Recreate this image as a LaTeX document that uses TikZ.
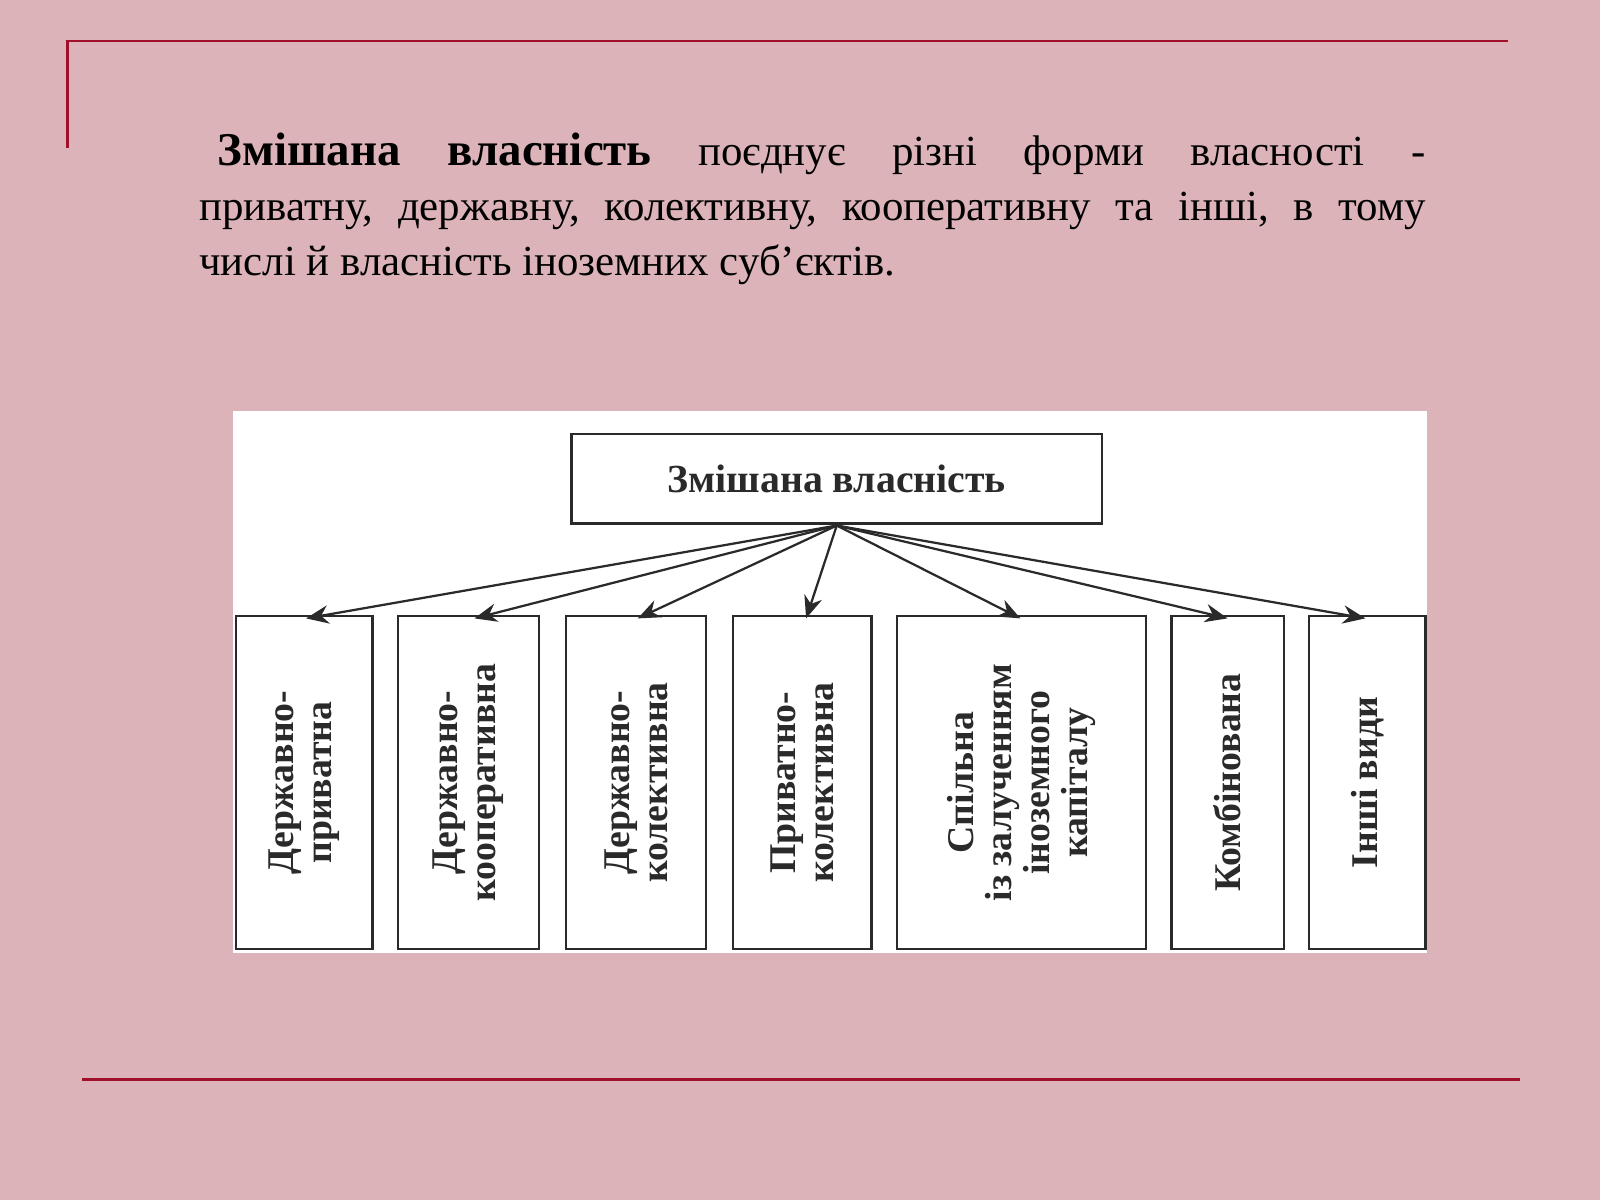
\documentclass[tikz,border=0pt]{standalone}
\usepackage{fontspec}
\setmainfont{Liberation Serif}
\definecolor{bg}{HTML}{DBB3B8}
\definecolor{rl}{HTML}{A0102A}
\definecolor{ink}{HTML}{2A2A2A}
\usetikzlibrary{arrows.meta}
\tikzset{
  leaf/.style={draw=ink,line width=2.2pt,fill=white},
  vt/.style={rotate=90,align=center,font=\fontsize{37}{37}\selectfont\bfseries,text=ink},
  arr/.style={draw=ink,line width=2.2pt,-{Stealth[length=22pt,width=18pt]}}
}
\begin{document}
\begin{tikzpicture}[x=1pt,y=-1pt]
\fill[bg] (0,0) rectangle (1568,1176);
\useasboundingbox (0,0) rectangle (1568,1176);
\draw[rl,line width=2.5pt] (66,145) -- (66,40) -- (1478,40);
\draw[rl,line width=2.5pt] (80,1058) -- (1490,1058);
\node[anchor=north west,text width=1202pt,align=justify,inner sep=0pt,font=\fontsize{42}{54}\selectfont] (para) at (195,130)
{\hspace*{18pt}{\fontsize{46}{54}\selectfont\textbf{Змішана\hfill власність}}\hfill поєднує\hfill різні\hfill форми\hfill власності\hfill -\\
приватну,\hfill державну,\hfill колективну,\hfill кооперативну\hfill та\hfill інші,\hfill в\hfill тому\\
числі й власність іноземних суб\symbol{39}єктів.\hfill\null};
\fill[white] (228,403) rectangle (1398,934);
\node[draw=ink,line width=2.2pt,minimum width=520pt,minimum height=88pt,font=\fontsize{39}{40}\selectfont\bfseries,text=ink] (top) at (820,469) {Змішана власність};
\coordinate (src) at (820,515);
\foreach \n/\a/\b/\t/\ax in {
 1/231/365/{Державно-\\приватна}/300,
 2/390/528/{Державно-\\кооперативна}/465,
 3/555/692/{Державно-\\колективна}/625,
 4/718/854/{Приватно-\\колективна}/790,
 5/879/1123/{Спільна\\із залученням\\іноземного\\капіталу}/1000,
 6/1148/1258/{Комбінована}/1203,
 7/1283/1397/{Інші види}/1338}{
  \draw[leaf] (\a,604) rectangle (\b,930);
  \node[vt] (l\n) at ({(\a+\b)/2},767) {\t};
  \coordinate (t\n) at (\ax,606);
  \draw[arr] (src) -- (t\n);
}
\end{tikzpicture}
\end{document}
